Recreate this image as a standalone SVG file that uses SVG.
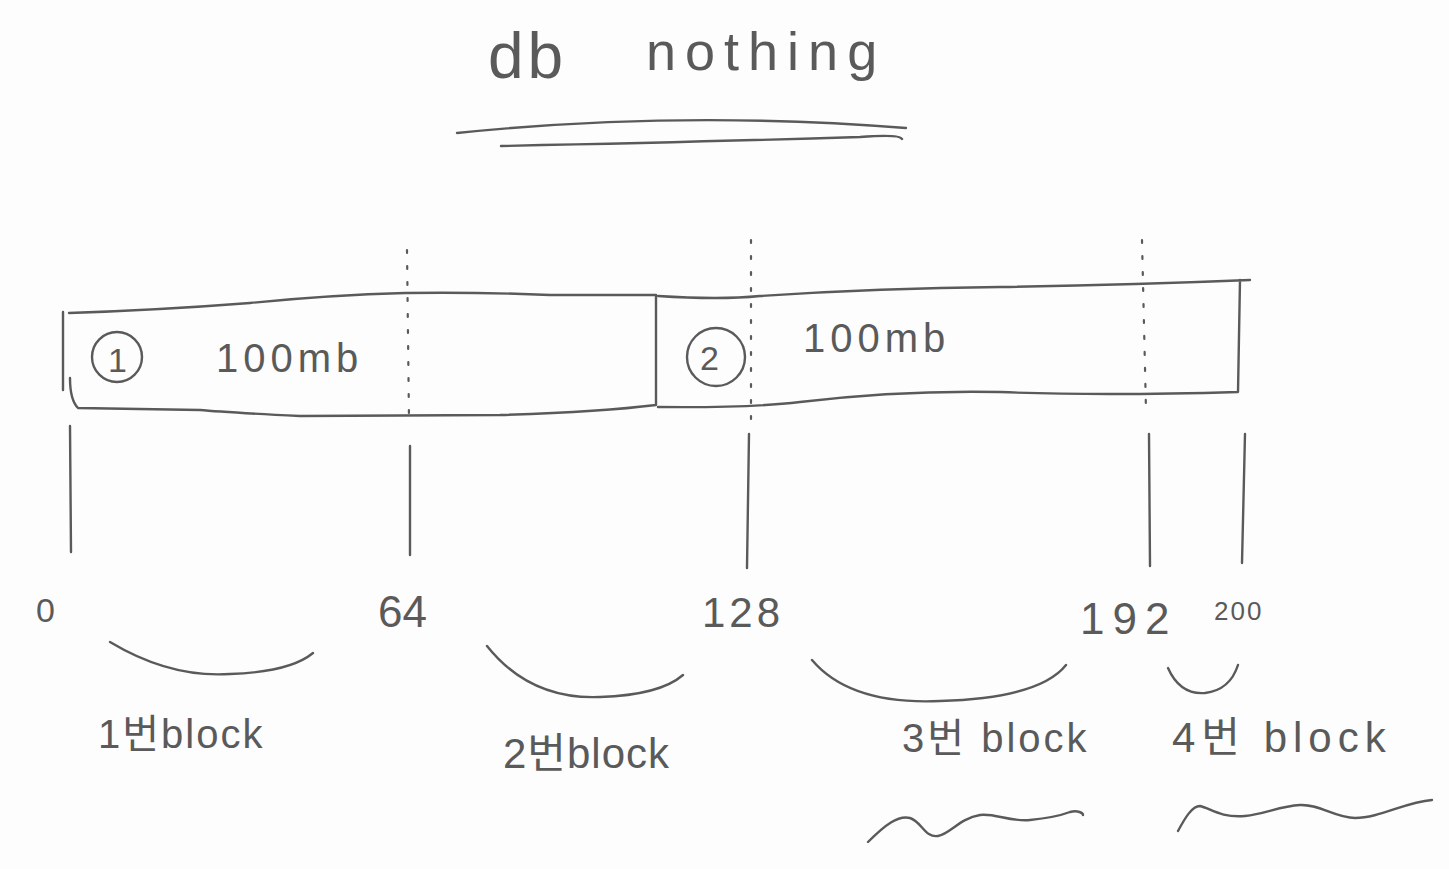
<svg xmlns="http://www.w3.org/2000/svg" width="1449" height="869" viewBox="0 0 1449 869">
<style>
.s{fill:none;stroke:#5a5a5a;stroke-width:2.4;stroke-linecap:round;stroke-linejoin:round}
.d{fill:none;stroke:#5a5a5a;stroke-width:2.2;stroke-dasharray:3 13;stroke-linecap:round}
.t{fill:#5a5a5a;font-family:"Liberation Sans","Noto Sans CJK KR",sans-serif;font-weight:normal}
</style>
<rect width="1449" height="869" fill="#fdfdfd"/>
<g id="title">
<text class="t" x="488" y="78" font-size="64" letter-spacing="4">db</text>
<text class="t" x="646" y="70" font-size="54" letter-spacing="9">nothing</text>
<path class="s" d="M457,133 Q680,110 906,128"/>
<path class="s" d="M501,146 Q700,142 860,137 Q900,134 902,139"/>
</g>
<g id="box1">
<path class="s" d="M63,312 L63,390 M69,313 Q160,310 250,303 Q330,295 405,293 Q480,292 550,295 L656,295 L656,405 Q600,412 500,415 L300,416 Q220,412 200,410 L78,408 Q70,400 70,378"/>
<circle class="s" cx="117" cy="357" r="25"/>
<text class="t" x="108" y="372" font-size="34">1</text>
<text class="t" x="216" y="372" font-size="40" letter-spacing="5">100mb</text>
</g>
<g id="box2">
<path class="s" d="M658,296 Q720,300 760,296 Q880,288 1000,287 Q1130,285 1250,280 M1240,280 L1238,392 Q1100,396 1000,392 Q900,390 800,402 Q750,408 658,407"/>
<circle class="s" cx="716" cy="357" r="29"/>
<text class="t" x="700" y="370" font-size="34">2</text>
<text class="t" x="803" y="352" font-size="40" letter-spacing="5">100mb</text>
</g>
<g id="dividers">
<line class="d" x1="407" y1="250" x2="409" y2="420"/>
<line class="d" x1="751" y1="240" x2="751" y2="420"/>
<line class="d" x1="1142" y1="240" x2="1146" y2="410"/>
</g>
<g id="ticks">
<line class="s" x1="70" y1="426" x2="71" y2="552"/>
<line class="s" x1="410" y1="446" x2="410" y2="555"/>
<line class="s" x1="749" y1="434" x2="747" y2="568"/>
<line class="s" x1="1149" y1="434" x2="1150" y2="566"/>
<line class="s" x1="1245" y1="434" x2="1242" y2="563"/>
</g>
<g id="numbers">
<text class="t" x="36" y="622" font-size="34">0</text>
<text class="t" x="378" y="627" font-size="44">64</text>
<text class="t" x="702" y="627" font-size="42" letter-spacing="4">128</text>
<text class="t" x="1080" y="634" font-size="44" letter-spacing="8">192</text>
<text class="t" x="1214" y="620" font-size="26" letter-spacing="2">200</text>
</g>
<g id="connectors">
<path class="s" d="M110,642 Q170,678 230,674 Q290,672 313,653"/>
<path class="s" d="M487,646 Q530,700 600,697 Q660,695 683,675"/>
<path class="s" d="M812,660 Q850,705 940,701 Q1040,698 1066,665"/>
<path class="s" d="M1168,668 Q1180,695 1205,693 Q1230,690 1238,665"/>
</g>
<g id="labels">
<text class="t" x="98" y="748" font-size="40" letter-spacing="2">1번block</text>
<text class="t" x="503" y="768" font-size="42" letter-spacing="1">2번block</text>
<text class="t" x="902" y="752" font-size="40" letter-spacing="3">3번 block</text>
<text class="t" x="1172" y="752" font-size="42" letter-spacing="6">4번 block</text>
<path class="s" d="M868,842 C885,825 898,815 910,818 C922,822 925,838 938,836 C950,834 960,818 980,815 C995,813 1010,822 1030,820 C1050,818 1062,815 1070,812 C1078,810 1083,813 1083,815"/>
<path class="s" d="M1178,831 C1185,818 1192,806 1200,806 C1210,808 1220,818 1245,816 C1265,814 1280,806 1300,805 C1320,804 1335,818 1355,818 C1380,818 1405,802 1432,800"/>
</g>
</svg>
